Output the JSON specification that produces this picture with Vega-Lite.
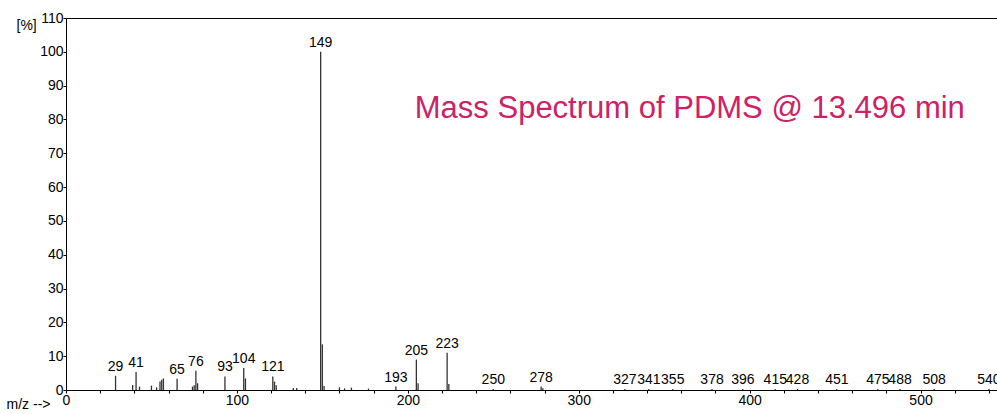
{
  "$schema": "https://vega.github.io/schema/vega-lite/v6.json",
  "autosize": "none",
  "padding": {"left": 66, "top": 18, "right": 0, "bottom": 24},
  "width": 940,
  "height": 372,
  "config": {
    "font": "Liberation Sans",
    "view": {"stroke": "black", "strokeWidth": 1},
    "axis": {"grid": false, "domainColor": "black", "tickColor": "black", "labelColor": "black", "labelFont": "Liberation Sans", "labelFontSize": 14, "titleFont": "Liberation Sans", "titleFontSize": 14, "titleFontWeight": "normal", "titleColor": "black"}
  },
  "datasets": {
    "peaks": [
      {"mz": 29, "pct": 4.2, "label": "29"},
      {"mz": 39, "pct": 1.5, "label": ""},
      {"mz": 41, "pct": 5.3, "label": "41"},
      {"mz": 43, "pct": 1.0, "label": ""},
      {"mz": 50, "pct": 1.3, "label": ""},
      {"mz": 53, "pct": 0.8, "label": ""},
      {"mz": 55, "pct": 2.5, "label": ""},
      {"mz": 56, "pct": 3.0, "label": ""},
      {"mz": 57, "pct": 3.4, "label": ""},
      {"mz": 65, "pct": 3.3, "label": "65"},
      {"mz": 74, "pct": 1.0, "label": ""},
      {"mz": 75, "pct": 1.4, "label": ""},
      {"mz": 76, "pct": 5.7, "label": "76"},
      {"mz": 77, "pct": 2.0, "label": ""},
      {"mz": 93, "pct": 4.0, "label": "93"},
      {"mz": 104, "pct": 6.5, "label": "104"},
      {"mz": 105, "pct": 3.4, "label": ""},
      {"mz": 121, "pct": 4.0, "label": "121"},
      {"mz": 122, "pct": 2.5, "label": ""},
      {"mz": 123, "pct": 1.4, "label": ""},
      {"mz": 133, "pct": 0.6, "label": ""},
      {"mz": 135, "pct": 0.6, "label": ""},
      {"mz": 149, "pct": 100, "label": "149"},
      {"mz": 150, "pct": 13.5, "label": ""},
      {"mz": 151, "pct": 1.2, "label": ""},
      {"mz": 160, "pct": 0.8, "label": ""},
      {"mz": 163, "pct": 0.5, "label": ""},
      {"mz": 167, "pct": 0.7, "label": ""},
      {"mz": 177, "pct": 0.4, "label": ""},
      {"mz": 193, "pct": 1.0, "label": "193"},
      {"mz": 205, "pct": 9.0, "label": "205"},
      {"mz": 206, "pct": 2.0, "label": ""},
      {"mz": 223, "pct": 11.0, "label": "223"},
      {"mz": 224, "pct": 1.8, "label": ""},
      {"mz": 250, "pct": 0.3, "label": "250"},
      {"mz": 278, "pct": 1.0, "label": "278"},
      {"mz": 279, "pct": 0.5, "label": ""},
      {"mz": 327, "pct": 0.3, "label": "327"},
      {"mz": 341, "pct": 0.3, "label": "341"},
      {"mz": 355, "pct": 0.3, "label": "355"},
      {"mz": 378, "pct": 0.3, "label": "378"},
      {"mz": 396, "pct": 0.3, "label": "396"},
      {"mz": 415, "pct": 0.3, "label": "415"},
      {"mz": 428, "pct": 0.3, "label": "428"},
      {"mz": 451, "pct": 0.3, "label": "451"},
      {"mz": 475, "pct": 0.3, "label": "475"},
      {"mz": 488, "pct": 0.3, "label": "488"},
      {"mz": 508, "pct": 0.3, "label": "508"},
      {"mz": 540, "pct": 0.3, "label": "540"}
    ],
    "caption": [{"mz": 365, "pct": 83, "text": "Mass Spectrum of PDMS @ 13.496 min"}]
  },
  "encoding": {
    "x": {"field": "mz", "type": "quantitative", "scale": {"domain": [0, 550], "nice": false},
      "axis": {"values": [0, 20, 40, 60, 80, 100, 120, 140, 160, 180, 200, 220, 240, 260, 280, 300, 320, 340, 360, 380, 400, 420, 440, 460, 480, 500, 520, 540],
        "labelExpr": "datum.value % 100 == 0 ? datum.label : ''", "labelOverlap": false, "labelFlush": false, "tickSize": 3, "labelPadding": 0,
        "title": "m/z -->", "titleX": -38, "titleY": 14, "titleBaseline": "middle", "titleAlign": "center"}},
    "y": {"field": "pct", "type": "quantitative", "scale": {"domain": [0, 110], "nice": false},
      "axis": {"values": [0, 10, 20, 30, 40, 50, 60, 70, 80, 90, 100, 110], "labelOverlap": false, "labelFlush": false, "tickSize": 3, "labelPadding": 0,
        "title": "[%]", "titleAngle": 0, "titleX": -50, "titleY": 14, "titleAlign": "left"}}
  },
  "layer": [
    {
      "data": {"name": "peaks"},
      "mark": {"type": "rule", "color": "#333333", "strokeWidth": 1.3},
      "encoding": {"y2": {"datum": 0}}
    },
    {
      "data": {"name": "peaks"},
      "mark": {"type": "text", "dy": -9, "fontSize": 14, "color": "black", "font": "Liberation Sans"},
      "encoding": {"text": {"field": "label"}}
    },
    {
      "data": {"name": "caption"},
      "mark": {"type": "text", "fontSize": 31, "color": "#cc2266", "font": "Liberation Sans"},
      "encoding": {"text": {"field": "text"}}
    }
  ]
}
